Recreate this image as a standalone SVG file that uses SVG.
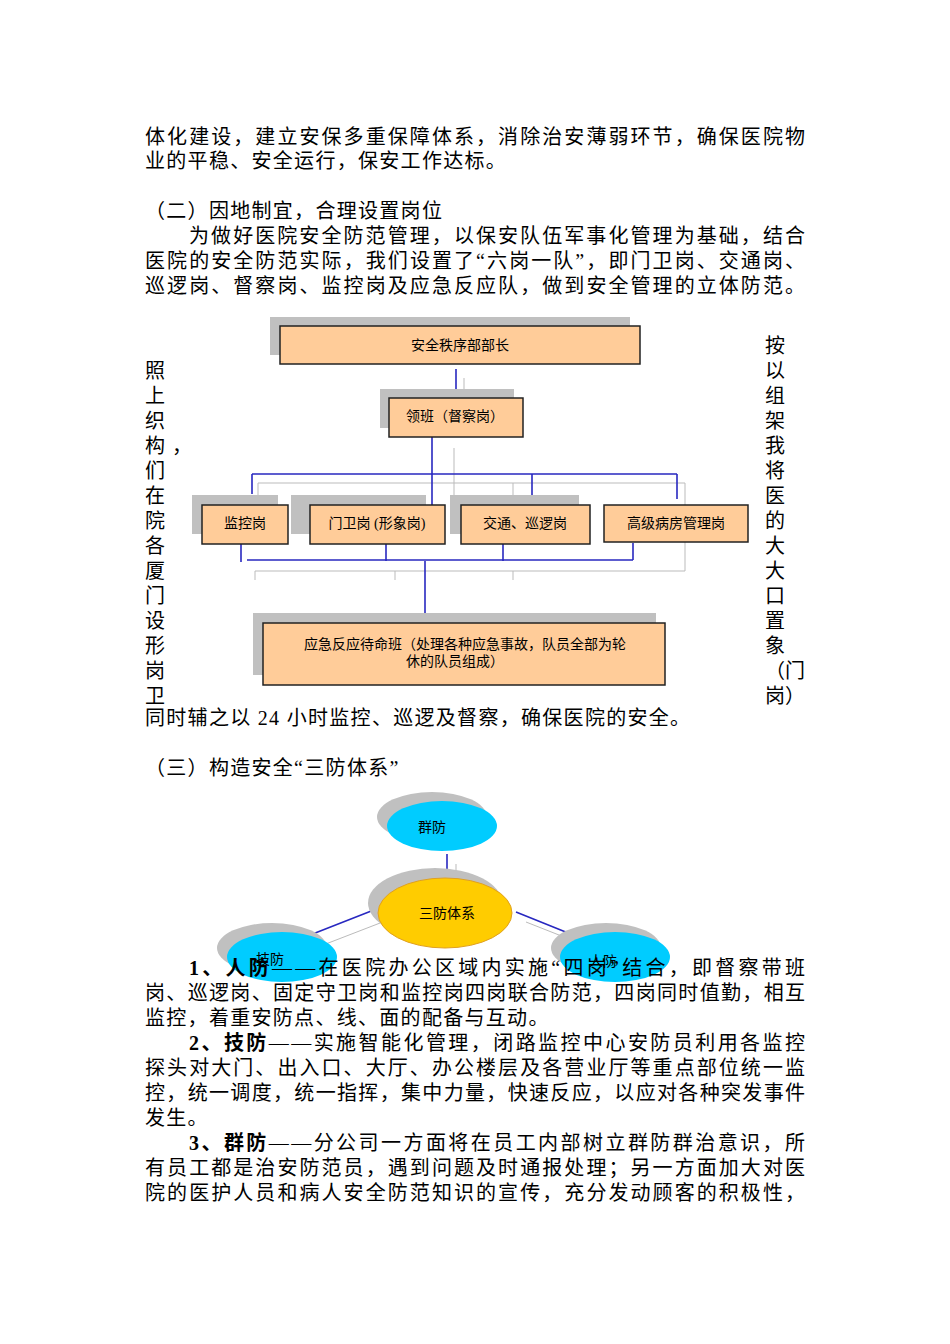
<svg xmlns="http://www.w3.org/2000/svg" width="950" height="1344" viewBox="0 0 950 1344">
<style>
.t{font-family:"Liberation Serif","Noto Sans CJK SC",serif;font-size:20px;fill:#000}
.s{font-family:"Liberation Serif","Noto Sans CJK SC",serif;font-size:14px;fill:#000}
.b{fill:#ffcc99;stroke:#222;stroke-width:1.5}
.sh{fill:#c0c0c0}
.bl{stroke:#2828c0;stroke-width:1.6;fill:none}
.gr{stroke:#bbb;stroke-width:1;fill:none}
</style>
<rect width="950" height="1344" fill="#fff"/>
<g id="para1">
<text class="t" x="145" y="144" textLength="660" lengthAdjust="spacing">体化建设，建立安保多重保障体系，消除治安薄弱环节，确保医院物</text>
<text class="t" x="145" y="168" letter-spacing="1.3">业的平稳、安全运行，保安工作达标。</text>
<text class="t" x="145" y="218" letter-spacing="1.3">（二）因地制宜，合理设置岗位</text>
<text class="t" x="189" y="243" textLength="616" lengthAdjust="spacing">为做好医院安全防范管理，以保安队伍军事化管理为基础，结合</text>
<text class="t" x="145" y="268" textLength="660" lengthAdjust="spacing">医院的安全防范实际，我们设置了“六岗一队”，即门卫岗、交通岗、</text>
<text class="t" x="145" y="293" textLength="660" lengthAdjust="spacing">巡逻岗、督察岗、监控岗及应急反应队，做到安全管理的立体防范。</text>
</g>
<g id="leftcol" class="t">
<text x="145" y="378">照</text><text x="145" y="403">上</text><text x="145" y="428">织</text><text x="145" y="453">构</text><text x="172" y="453">，</text><text x="145" y="478">们</text><text x="145" y="503">在</text><text x="145" y="528">院</text><text x="145" y="553">各</text><text x="145" y="578">厦</text><text x="145" y="603">门</text><text x="145" y="628">设</text><text x="145" y="653">形</text><text x="145" y="678">岗</text><text x="145" y="703">卫</text>
</g>
<g id="rightcol" class="t">
<text x="765" y="353">按</text><text x="765" y="378">以</text><text x="765" y="403">组</text><text x="765" y="428">架</text><text x="765" y="453">我</text><text x="765" y="478">将</text><text x="765" y="503">医</text><text x="765" y="528">的</text><text x="765" y="553">大</text><text x="765" y="578">大</text><text x="765" y="603">口</text><text x="765" y="628">置</text><text x="765" y="653">象</text><text x="765" y="678">（门</text><text x="765" y="703">岗）</text>
</g>
<g id="connectors">
<path class="gr" d="M464 378V410M454 448V505M258 483H685V571H255M258 483V505M513 483V505M255 571V580M395 571V580M513 571V580"/>
<path class="bl" d="M456 369V398M432 437V505M252 474H677M252 474V494M532 474V499M677 474V499M241 543V562M386 543V561M503 543V561M633 543V560M247 560H633M425 561V623"/>
</g>
<g id="n1"><rect class="sh" x="270" y="317" width="360" height="38"/><rect class="b" x="280" y="326" width="360" height="38"/><text class="s" x="460" y="350" text-anchor="middle">安全秩序部部长</text></g>
<g id="n2"><rect class="sh" x="380" y="389" width="134" height="39"/><rect class="b" x="389" y="398" width="134" height="39"/><text class="s" x="455" y="421" text-anchor="middle">领班（督察岗）</text></g>
<g id="n3"><rect class="sh" x="192" y="495" width="86" height="39"/><rect class="b" x="202" y="505" width="86" height="39"/><text class="s" x="245" y="528" text-anchor="middle">监控岗</text></g>
<g id="n4"><rect class="sh" x="291" y="495" width="135" height="39"/><rect class="b" x="310" y="505" width="135" height="39"/><text class="s" x="377" y="528" text-anchor="middle">门卫岗 (形象岗)</text></g>
<g id="n5"><rect class="sh" x="450" y="495" width="129" height="39"/><rect class="b" x="461" y="505" width="129" height="39"/><text class="s" x="525" y="528" text-anchor="middle">交通、巡逻岗</text></g>
<g id="n6"><rect class="b" x="604" y="505" width="144" height="37" stroke="#6060c0"/><text class="s" x="676" y="528" text-anchor="middle">高级病房管理岗</text></g>
<g id="n7"><rect class="sh" x="253" y="613" width="403" height="62"/><rect class="b" x="263" y="623" width="402" height="62"/><text class="s" x="465" y="649" text-anchor="middle">应急反应待命班（处理各种应急事故，队员全部为轮</text><text class="s" x="455" y="666" text-anchor="middle">休的队员组成）</text></g>
<g id="para2">
<text class="t" x="145" y="725" letter-spacing="1.3">同时辅之以 24 小时监控、巡逻及督察，确保医院的安全。</text>
<text class="t" x="145" y="775" letter-spacing="1.3">（三）构造安全“三防体系”</text>
</g>
<g id="connectors2">
<path class="gr" d="M456 864V895M393 918L318 947M526 922L597 950"/>
<path class="bl" d="M447 854V885M384 906L305 937M516 912L588 941"/>
</g>
<g id="e1"><ellipse cx="432" cy="817" rx="55" ry="25" fill="#c0c0c0"/><ellipse cx="442" cy="826" rx="55" ry="25" fill="#00ccff"/><text class="s" x="432" y="832" text-anchor="middle">群防</text></g>
<g id="e2"><ellipse cx="435" cy="903" rx="67" ry="35" fill="#c0c0c0"/><ellipse cx="445" cy="913" rx="67" ry="35" fill="#ffcc00" stroke="#e0a020"/><text class="s" x="447" y="918" text-anchor="middle">三防体系</text></g>
<g id="e3"><ellipse cx="272" cy="948" rx="55" ry="25" fill="#c0c0c0"/><ellipse cx="282" cy="957" rx="55" ry="25" fill="#00ccff"/><text class="s" x="270" y="964" text-anchor="middle">技防</text></g>
<g id="e4"><ellipse cx="606" cy="948" rx="55" ry="25" fill="#c0c0c0"/><ellipse cx="615" cy="957" rx="55" ry="25" fill="#00ccff"/><text class="s" x="603" y="966" text-anchor="middle">人防</text></g>
<g id="para3">
<text class="t" x="189" y="975" textLength="616" lengthAdjust="spacing"><tspan font-weight="bold">1、人防</tspan>——在医院办公区域内实施“四岗”结合，即督察带班</text>
<text class="t" x="145" y="1000" textLength="660" lengthAdjust="spacing">岗、巡逻岗、固定守卫岗和监控岗四岗联合防范，四岗同时值勤，相互</text>
<text class="t" x="145" y="1025" letter-spacing="1.3">监控，着重安防点、线、面的配备与互动。</text>
<text class="t" x="189" y="1050" textLength="616" lengthAdjust="spacing"><tspan font-weight="bold">2、技防</tspan>——实施智能化管理，闭路监控中心安防员利用各监控</text>
<text class="t" x="145" y="1075" textLength="660" lengthAdjust="spacing">探头对大门、出入口、大厅、办公楼层及各营业厅等重点部位统一监</text>
<text class="t" x="145" y="1100" textLength="660" lengthAdjust="spacing">控，统一调度，统一指挥，集中力量，快速反应，以应对各种突发事件</text>
<text class="t" x="145" y="1125" letter-spacing="1.3">发生。</text>
<text class="t" x="189" y="1150" textLength="616" lengthAdjust="spacing"><tspan font-weight="bold">3、群防</tspan>——分公司一方面将在员工内部树立群防群治意识，所</text>
<text class="t" x="145" y="1175" textLength="660" lengthAdjust="spacing">有员工都是治安防范员，遇到问题及时通报处理；另一方面加大对医</text>
<text class="t" x="145" y="1200" textLength="660" lengthAdjust="spacing">院的医护人员和病人安全防范知识的宣传，充分发动顾客的积极性，</text>
</g>
</svg>
